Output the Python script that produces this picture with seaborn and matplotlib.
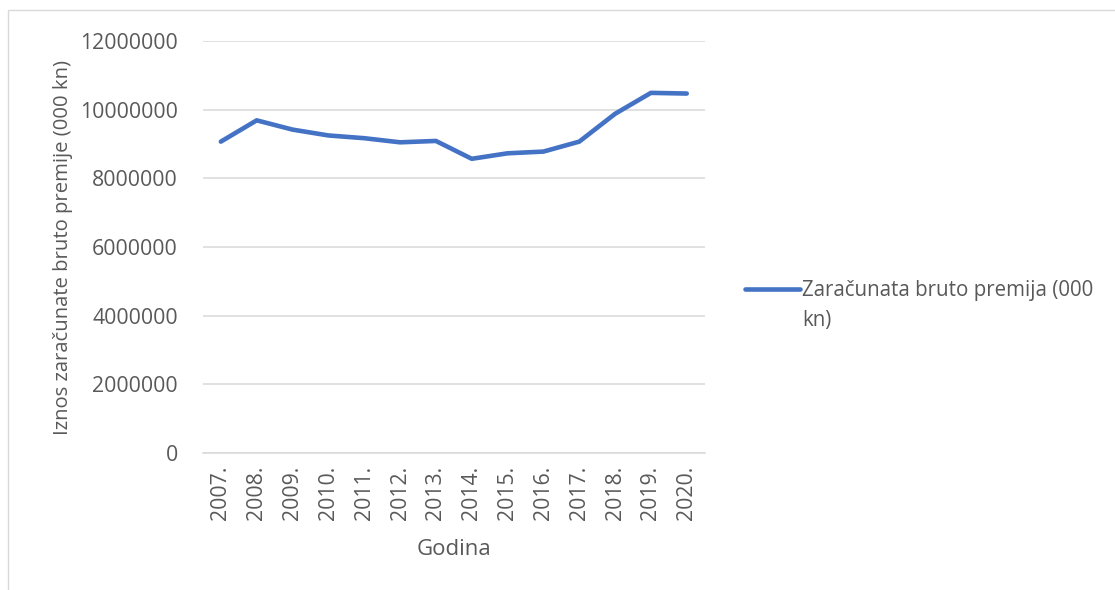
import matplotlib
matplotlib.use("Agg")
import matplotlib.pyplot as plt
import matplotlib.ticker as mticker
from matplotlib.patches import Rectangle
import seaborn as sns
import pandas as pd

years = ["2007.", "2008.", "2009.", "2010.", "2011.", "2012.", "2013.",
         "2014.", "2015.", "2016.", "2017.", "2018.", "2019.", "2020."]
premium = [9070000, 9690000, 9420000, 9250000, 9170000, 9050000, 9090000,
           8570000, 8730000, 8780000, 9070000, 9880000, 10490000, 10470000]
y_ticks = [0, 2000000, 4000000, 6000000, 8000000, 10000000, 12000000]
series_name = "Zaračunata bruto premija (000"
series_name_2 = "kn)"

sns.set_theme(style="white")
plt.rcParams['font.family'] = ['Open Sans', 'DejaVu Sans']
txt = "#595959"
grid = "#D9D9D9"
fs = 15.3
lfs = 14.8

df = pd.DataFrame({"Godina": years, "Premija": premium})

fig = plt.figure(figsize=(11.15, 5.9), dpi=100)
ax = fig.add_axes([0.182, 0.232, 0.450, 0.6985])

sns.lineplot(data=df, x="Godina", y="Premija", ax=ax, color="#4472C4",
             linewidth=3.3, label=series_name, sort=False)
for l in ax.get_lines():
    l.set_solid_capstyle("round")
    l.set_solid_joinstyle("round")

ax.set_xlim(-0.5, len(years) - 0.5)
ax.set_ylim(0, 12000000)
ax.set_yticks(y_ticks)
ax.yaxis.set_major_formatter(mticker.FuncFormatter(lambda v, p: f"{int(v)}"))
ax.grid(axis="y", color=grid, linewidth=1.1)
ax.grid(axis="x", visible=False)
ax.set_axisbelow(True)
for s in ["top", "right", "left"]:
    ax.spines[s].set_visible(False)
ax.spines["bottom"].set_color(grid)
ax.spines["bottom"].set_linewidth(1.1)
ax.tick_params(axis="both", length=0, colors=txt, labelsize=fs)
ax.tick_params(axis="y", pad=18)
ax.tick_params(axis="x", pad=9)
plt.setp(ax.get_xticklabels(), rotation=90)

ax.set_xlabel("Godina", fontsize=16, color=txt, labelpad=13.5)
ax.set_ylabel("Iznos zaračunate bruto premije (000 kn)", fontsize=14.6,
              color=txt, labelpad=5)

leg = ax.legend(loc="center left", bbox_to_anchor=(0.652, 0.508),
                bbox_transform=fig.transFigure, frameon=False,
                fontsize=lfs, handlelength=2.65, handletextpad=0.1,
                labelcolor=txt)
for h in leg.legend_handles:
    h.set_linewidth(3.3)
    h.set_solid_capstyle("round")

fig.canvas.draw()
bb = leg.get_texts()[0].get_window_extent()
fx = bb.x0 / fig.bbox.width
fy = (bb.y0 - 30) / fig.bbox.height
fig.text(fx, fy, series_name_2, fontsize=lfs, color=txt, va="bottom", ha="left")

fig.patches.append(Rectangle((8 / 1115, -0.05), 1.2, 1 - 10 / 590 + 0.05,
                             transform=fig.transFigure, fill=False,
                             edgecolor=grid, linewidth=1.0))

fig.savefig("out.png", dpi=100)
